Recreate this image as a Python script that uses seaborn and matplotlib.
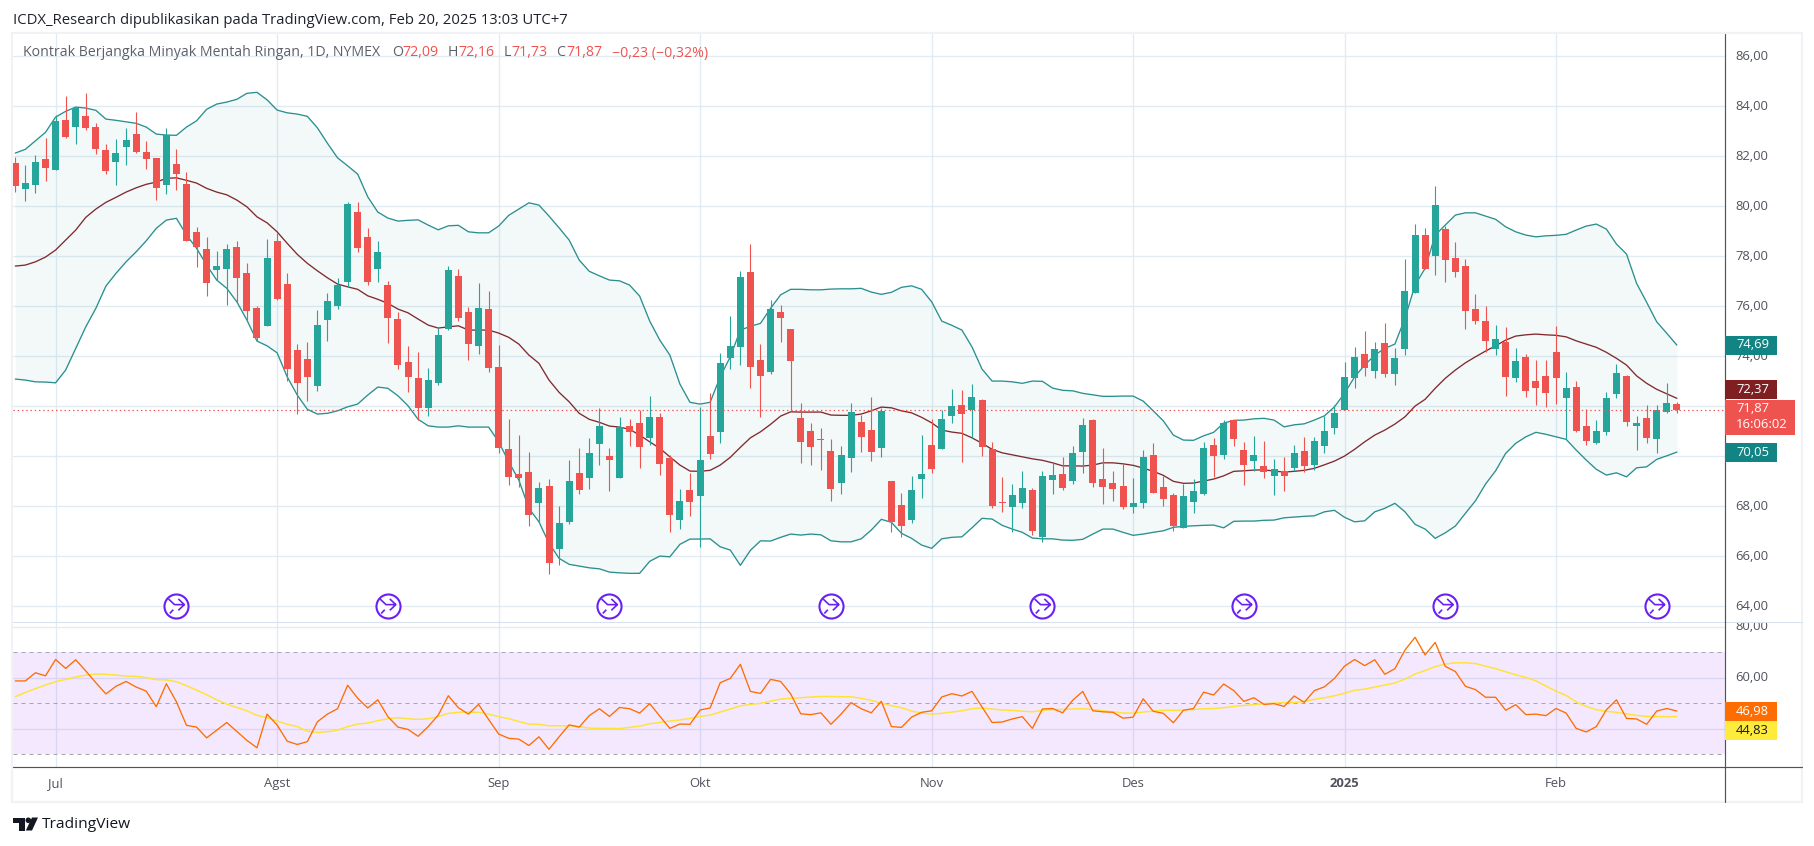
import matplotlib
matplotlib.use("Agg")
import matplotlib.pyplot as plt
from matplotlib.lines import Line2D
from matplotlib.patches import Rectangle, Polygon, Circle
from matplotlib.path import Path
from matplotlib.transforms import ScaledTranslation
import numpy as np
import seaborn as sns

open_px = [
    81.73, 80.70, 80.86, 81.89, 81.45, 83.45, 83.18, 83.61, 83.17, 82.25,
    81.77, 82.37, 82.89, 82.17, 81.93, 80.86, 81.69, 80.89, 78.97, 78.29,
    77.45, 77.49, 78.37, 77.33, 75.93, 75.22, 78.61, 76.89, 74.25, 73.89,
    72.81, 75.45, 76.01, 76.97, 79.77, 78.77, 77.49, 76.85, 75.49, 73.77,
    73.13, 71.93, 72.93, 75.08, 77.21, 75.77, 74.41, 75.89, 73.57, 70.29,
    69.29, 69.37, 68.13, 68.81, 66.29, 67.37, 69.33, 69.13, 70.49, 70.01,
    69.13, 71.21, 71.33, 70.73, 71.57, 69.93, 67.45, 68.65, 68.41, 70.81,
    70.97, 73.93, 74.37, 77.37, 73.85, 73.37, 75.77, 75.09, 71.53, 71.01,
    70.69, 70.21, 68.93, 69.93, 71.37, 71.05, 70.33, 69.01, 68.05, 67.45,
    69.09, 70.45, 70.29, 71.61, 72.05, 71.85, 72.25, 70.29, 68.17, 67.97,
    68.13, 68.65, 66.77, 69.05, 69.29, 69.01, 70.17, 71.45, 69.09, 68.93,
    68.81, 67.97, 68.13, 70.05, 68.77, 68.45, 67.13, 68.17, 68.49, 70.45,
    70.05, 71.45, 70.25, 69.81, 69.61, 69.21, 69.41, 69.53, 70.21, 69.65,
    70.41, 71.13, 71.85, 73.13, 74.09, 73.41, 74.53, 73.29, 74.29, 76.53,
    78.85, 78.01, 79.09, 77.93, 77.61, 75.89, 75.41, 74.29, 74.57, 73.13,
    73.97, 73.01, 73.21, 74.17, 72.33, 72.77, 71.21, 70.53, 70.97, 72.49,
    73.21, 71.21, 71.53, 70.69, 71.77, 72.09,
]
high_px = [
    81.98, 81.65, 82.05, 82.73, 83.65, 84.41, 83.97, 84.53, 83.33, 82.49,
    82.69, 83.13, 83.77, 82.61, 81.93, 83.13, 82.29, 81.37, 79.17, 78.77,
    78.21, 78.49, 78.61, 77.73, 76.01, 78.69, 78.92, 77.33, 74.49, 74.57,
    75.85, 76.53, 77.13, 80.17, 80.17, 79.13, 78.61, 77.01, 75.77, 74.41,
    74.17, 73.53, 75.13, 77.61, 77.49, 75.97, 76.93, 76.61, 74.45, 71.49,
    70.85, 70.17, 68.97, 69.09, 68.01, 69.85, 70.33, 70.73, 71.93, 70.33,
    71.57, 71.49, 71.85, 72.41, 71.73, 70.05, 68.69, 69.33, 71.97, 72.53,
    74.13, 75.61, 77.41, 78.49, 74.49, 76.25, 76.05, 75.09, 72.13, 71.33,
    71.13, 70.69, 70.41, 72.13, 71.65, 72.37, 71.93, 69.01, 68.53, 69.21,
    70.85, 71.49, 71.85, 72.69, 72.65, 72.89, 72.29, 70.57, 69.17, 68.89,
    69.41, 68.73, 69.41, 69.77, 69.97, 70.41, 71.53, 71.49, 70.33, 69.41,
    69.69, 69.13, 70.25, 70.53, 69.21, 68.53, 68.89, 69.09, 70.57, 70.73,
    71.45, 71.45, 70.57, 70.81, 70.61, 69.89, 69.97, 70.45, 70.77, 70.77,
    71.61, 72.05, 73.77, 74.37, 75.01, 74.57, 75.33, 74.33, 77.89, 79.29,
    79.13, 80.81, 79.21, 78.57, 77.89, 76.49, 76.01, 75.25, 75.17, 74.33,
    74.09, 73.85, 73.85, 75.21, 73.37, 73.01, 71.89, 71.45, 72.57, 73.69,
    73.25, 71.61, 72.05, 72.05, 72.93, 72.16,
]
low_px = [
    80.58, 80.22, 80.54, 81.01, 81.45, 82.74, 82.50, 83.05, 82.10, 81.30,
    80.86, 81.66, 82.14, 81.50, 80.26, 80.50, 80.66, 78.62, 77.58, 76.42,
    77.05, 76.05, 76.18, 75.42, 74.60, 75.22, 76.25, 73.02, 71.70, 72.22,
    72.61, 74.61, 75.89, 76.77, 78.17, 76.85, 76.97, 74.54, 73.49, 72.57,
    71.45, 71.61, 72.85, 75.05, 75.41, 73.85, 74.09, 73.37, 70.13, 68.85,
    68.77, 67.21, 67.32, 65.29, 65.65, 67.29, 68.49, 68.69, 69.65, 68.61,
    69.13, 70.41, 69.53, 70.45, 69.25, 66.97, 67.09, 67.61, 66.37, 69.89,
    70.53, 73.49, 73.65, 72.73, 71.57, 73.29, 74.57, 71.85, 69.73, 69.65,
    69.45, 68.21, 68.49, 69.37, 70.17, 69.81, 69.97, 66.97, 66.77, 67.33,
    68.33, 69.33, 70.29, 71.33, 69.77, 70.73, 70.01, 67.93, 67.77, 66.97,
    67.93, 66.85, 66.57, 68.49, 68.65, 68.89, 69.33, 68.77, 68.09, 68.21,
    67.89, 67.73, 67.93, 68.53, 68.01, 67.01, 67.13, 67.73, 68.45, 69.17,
    69.89, 70.41, 68.85, 69.41, 69.13, 68.45, 68.61, 69.41, 69.37, 69.45,
    70.13, 70.89, 71.85, 72.73, 73.21, 73.13, 73.17, 72.85, 74.05, 76.53,
    77.49, 77.25, 76.97, 77.17, 75.09, 75.29, 74.17, 74.05, 72.41, 72.97,
    72.37, 72.05, 71.97, 72.09, 70.68, 70.97, 70.45, 70.49, 70.85, 72.33,
    71.21, 70.25, 70.53, 70.13, 71.73, 71.73,
]
close_px = [
    80.82, 80.93, 81.77, 81.54, 83.41, 82.77, 83.93, 83.13, 82.30, 81.41,
    82.13, 82.65, 82.17, 81.89, 80.74, 82.85, 81.30, 78.62, 78.37, 76.94,
    77.61, 78.29, 77.14, 75.81, 74.73, 77.93, 76.29, 73.50, 72.94, 73.17,
    75.25, 76.21, 76.85, 80.09, 78.33, 76.97, 78.17, 75.54, 73.65, 73.17,
    71.93, 73.05, 74.85, 77.45, 75.54, 74.49, 75.93, 73.53, 70.33, 69.18,
    69.13, 67.65, 68.73, 65.73, 67.33, 69.01, 68.65, 70.13, 71.21, 69.85,
    71.17, 70.97, 70.37, 71.57, 69.69, 67.65, 68.21, 68.17, 69.85, 70.09,
    73.73, 74.41, 77.17, 73.57, 73.21, 75.89, 75.53, 73.81, 70.57, 70.37,
    70.67, 68.69, 70.05, 71.77, 70.77, 70.17, 71.81, 67.37, 67.21, 68.65,
    69.29, 69.49, 71.49, 72.01, 71.69, 72.37, 70.37, 68.01, 68.15, 68.45,
    68.73, 67.01, 69.21, 69.25, 68.72, 70.13, 71.25, 68.93, 68.77, 68.69,
    67.97, 68.13, 69.97, 68.53, 68.29, 67.21, 68.41, 68.61, 70.33, 70.01,
    71.33, 70.69, 69.65, 70.05, 69.37, 69.49, 69.21, 70.13, 69.61, 70.61,
    71.01, 71.73, 73.17, 73.97, 73.53, 74.29, 73.29, 73.93, 76.61, 78.85,
    77.49, 80.05, 77.85, 77.37, 75.81, 75.41, 74.61, 74.69, 73.17, 73.81,
    72.61, 72.73, 72.53, 73.13, 72.73, 71.01, 70.61, 71.01, 72.33, 73.33,
    71.37, 71.33, 70.73, 71.85, 72.13, 71.87,
]

bb_upper = [
    82.13, 82.28, 82.62, 82.96, 83.57, 83.80, 83.97, 83.93, 83.84, 83.49,
    83.44, 83.38, 83.32, 83.17, 82.89, 82.85, 82.84, 83.17, 83.42, 83.88,
    84.09, 84.17, 84.28, 84.52, 84.56, 84.26, 83.85, 83.74, 83.69, 83.60,
    83.14, 82.52, 81.94, 81.62, 81.29, 80.38, 79.77, 79.53, 79.41, 79.44,
    79.46, 79.25, 79.06, 79.22, 79.24, 78.98, 78.94, 78.94, 79.21, 79.64,
    79.89, 80.14, 80.05, 79.61, 79.14, 78.65, 77.85, 77.40, 77.22, 77.05,
    77.02, 76.85, 76.41, 75.41, 74.65, 74.05, 72.89, 72.16, 72.09, 72.16,
    73.18, 73.98, 75.05, 75.20, 75.32, 75.92, 76.46, 76.68, 76.68, 76.66,
    76.66, 76.69, 76.70, 76.70, 76.72, 76.57, 76.48, 76.56, 76.76, 76.82,
    76.68, 76.18, 75.41, 75.24, 75.05, 74.38, 73.49, 73.01, 73.01, 72.98,
    72.92, 73.01, 73.00, 72.73, 72.64, 72.62, 72.52, 72.46, 72.40, 72.40,
    72.41, 72.41, 72.21, 71.82, 71.42, 70.85, 70.65, 70.64, 70.82, 70.96,
    71.33, 71.44, 71.45, 71.50, 71.52, 71.45, 71.18, 71.26, 71.30, 71.45,
    71.62, 71.98, 72.52, 73.18, 73.65, 74.05, 74.32, 74.49, 75.52, 76.85,
    77.52, 78.85, 79.25, 79.65, 79.74, 79.74, 79.61, 79.48, 79.18, 78.98,
    78.85, 78.78, 78.82, 78.84, 78.88, 79.05, 79.21, 79.29, 79.09, 78.49,
    78.09, 76.92, 76.16, 75.38, 74.92, 74.45,
]
bb_basis = [
    77.61, 77.65, 77.78, 77.97, 78.25, 78.65, 79.05, 79.56, 79.89, 80.16,
    80.36, 80.57, 80.74, 80.88, 80.97, 81.12, 81.14, 81.04, 80.93, 80.72,
    80.57, 80.46, 80.25, 79.98, 79.58, 79.34, 78.98, 78.52, 78.08, 77.72,
    77.42, 77.14, 76.89, 76.78, 76.68, 76.42, 76.28, 76.12, 75.89, 75.74,
    75.49, 75.25, 75.13, 75.18, 75.22, 75.05, 75.05, 75.05, 74.93, 74.76,
    74.49, 74.05, 73.72, 73.05, 72.56, 72.18, 71.72, 71.48, 71.36, 71.21,
    71.17, 71.08, 70.85, 70.58, 70.32, 69.98, 69.65, 69.41, 69.40, 69.44,
    69.65, 69.96, 70.36, 70.74, 70.98, 71.28, 71.61, 71.78, 71.77, 71.77,
    71.77, 71.65, 71.64, 71.64, 71.69, 71.82, 71.97, 71.94, 71.82, 71.74,
    71.56, 71.34, 71.05, 70.97, 70.92, 70.74, 70.52, 70.28, 70.14, 70.06,
    69.98, 69.90, 69.84, 69.74, 69.62, 69.62, 69.61, 69.65, 69.74, 69.74,
    69.70, 69.64, 69.53, 69.40, 69.24, 69.00, 68.92, 68.93, 69.01, 69.09,
    69.22, 69.40, 69.42, 69.45, 69.46, 69.41, 69.37, 69.40, 69.44, 69.52,
    69.66, 69.81, 70.01, 70.28, 70.58, 70.85, 71.05, 71.29, 71.58, 72.01,
    72.28, 72.72, 73.12, 73.45, 73.74, 73.98, 74.21, 74.42, 74.65, 74.81,
    74.86, 74.89, 74.86, 74.84, 74.78, 74.62, 74.49, 74.36, 74.16, 73.92,
    73.65, 73.22, 72.92, 72.68, 72.50, 72.32,
]
bb_lower = [
    73.09, 73.05, 72.98, 72.97, 72.94, 73.45, 74.32, 75.18, 75.92, 76.81,
    77.32, 77.78, 78.18, 78.62, 79.12, 79.45, 79.52, 78.85, 78.32, 77.65,
    77.05, 76.72, 76.18, 75.45, 74.61, 74.42, 74.14, 73.18, 72.45, 71.88,
    71.69, 71.72, 71.82, 71.98, 72.09, 72.45, 72.77, 72.72, 72.42, 72.02,
    71.48, 71.22, 71.17, 71.17, 71.22, 71.17, 71.17, 71.17, 70.58, 69.78,
    69.05, 67.92, 67.38, 66.52, 65.92, 65.68, 65.61, 65.54, 65.50, 65.37,
    65.34, 65.32, 65.32, 65.80, 66.01, 65.98, 66.48, 66.69, 66.69, 66.70,
    66.38, 66.25, 65.64, 66.24, 66.62, 66.61, 66.76, 66.89, 66.85, 66.89,
    66.86, 66.62, 66.58, 66.58, 66.70, 67.05, 67.48, 67.36, 66.92, 66.72,
    66.45, 66.32, 66.70, 66.76, 66.78, 67.14, 67.52, 67.49, 67.24, 67.09,
    66.96, 66.73, 66.70, 66.70, 66.65, 66.64, 66.68, 66.89, 67.09, 67.09,
    66.96, 66.84, 66.89, 66.96, 67.02, 67.16, 67.20, 67.22, 67.24, 67.25,
    67.14, 67.40, 67.41, 67.41, 67.44, 67.45, 67.54, 67.57, 67.60, 67.62,
    67.78, 67.84, 67.56, 67.38, 67.42, 67.78, 67.92, 68.12, 67.78, 67.28,
    67.09, 66.72, 66.94, 67.21, 67.72, 68.22, 68.89, 69.42, 70.12, 70.52,
    70.78, 70.96, 70.88, 70.78, 70.68, 70.25, 69.85, 69.48, 69.25, 69.34,
    69.18, 69.54, 69.58, 69.88, 70.02, 70.17,
]

rsi_values = [
    58.8, 58.8, 62.0, 60.8, 67.2, 63.7, 67.1, 62.7, 58.1, 53.7,
    56.7, 58.6, 56.4, 54.8, 48.7, 57.7, 50.6, 41.4, 40.7, 36.5,
    39.5, 42.5, 39.0, 35.5, 32.6, 45.8, 41.5, 35.2, 33.9, 35.0,
    42.8, 45.8, 47.9, 57.1, 52.0, 48.2, 51.4, 44.8, 40.7, 39.8,
    37.1, 40.9, 45.4, 53.0, 48.3, 45.8, 49.6, 43.7, 38.0, 36.3,
    36.0, 33.5, 36.9, 32.0, 36.9, 41.6, 40.7, 45.2, 47.9, 44.9,
    48.4, 47.9, 46.2, 49.9, 45.0, 40.2, 41.9, 41.8, 47.4, 48.2,
    58.1, 59.8, 65.3, 54.7, 53.9, 59.4, 58.6, 53.7, 45.9, 45.6,
    46.3, 41.8, 45.8, 50.3, 47.9, 46.3, 50.8, 40.9, 40.6, 44.6,
    46.5, 47.1, 52.5, 53.8, 52.9, 54.7, 48.6, 42.5, 42.7, 43.9,
    44.8, 40.2, 47.8, 48.0, 46.3, 51.2, 54.7, 47.1, 46.7, 46.5,
    44.2, 44.6, 51.8, 46.9, 46.1, 42.4, 47.3, 48.0, 54.4, 53.3,
    57.6, 55.0, 50.8, 52.2, 49.6, 49.9, 48.8, 52.9, 50.4, 55.0,
    56.5, 59.8, 64.6, 67.2, 64.8, 67.1, 61.4, 63.6, 70.9, 75.9,
    69.0, 73.9, 64.5, 62.5, 56.7, 55.4, 52.4, 52.4, 47.3, 49.5,
    45.6, 45.8, 45.2, 48.0, 46.2, 40.2, 38.8, 40.9, 47.5, 51.4,
    44.1, 43.9, 41.8, 47.0, 48.0, 46.98,
]
rsi_ma = [
    52.6, 54.3, 55.8, 57.2, 58.5, 59.4, 60.3, 61.1, 61.5, 61.4,
    61.1, 60.7, 60.6, 60.1, 59.3, 59.2, 58.5, 56.9, 55.2, 53.4,
    51.4, 49.7, 48.4, 47.1, 45.3, 44.4, 43.1, 41.8, 40.9, 39.1,
    38.6, 38.9, 39.5, 40.9, 41.9, 42.3, 43.2, 44.0, 44.4, 44.0,
    43.7, 44.0, 44.8, 46.1, 46.5, 46.6, 46.5, 45.8, 44.8, 44.0,
    42.9, 41.9, 41.8, 41.2, 41.2, 41.2, 40.9, 40.3, 40.2, 40.2,
    40.1, 40.6, 41.1, 42.0, 42.5, 43.1, 43.5, 44.1, 44.9, 45.4,
    46.6, 47.8, 49.0, 49.6, 50.0, 50.9, 51.7, 52.0, 52.2, 52.5,
    52.7, 52.7, 52.6, 52.6, 52.0, 51.2, 50.1, 49.1, 48.3, 47.0,
    46.2, 45.8, 46.1, 46.6, 47.1, 47.9, 48.2, 47.8, 47.4, 47.3,
    46.9, 46.7, 47.3, 47.6, 47.6, 47.8, 47.9, 47.6, 47.1, 46.7,
    46.2, 46.2, 46.6, 47.0, 47.3, 47.3, 47.4, 47.6, 47.9, 48.0,
    48.3, 48.8, 49.2, 49.5, 49.9, 50.1, 50.3, 50.3, 50.8, 51.6,
    52.2, 53.0, 54.0, 55.1, 55.6, 56.4, 57.2, 58.0, 59.5, 61.5,
    62.9, 64.4, 65.4, 65.9, 65.9, 65.6, 64.6, 63.6, 62.4, 61.2,
    60.2, 58.8, 56.8, 54.8, 53.1, 50.6, 48.8, 47.5, 46.9, 46.5,
    45.9, 45.3, 44.9, 44.8, 44.8, 44.83,
]

month_bars = [4, 26, 48, 68, 91, 111, 132, 153]
month_labels = ["Jul", "Agst", "Sep", "Okt", "Nov", "Des", "2025", "Feb"]
event_bars = [16, 37, 59, 81, 102, 122, 142, 163]
price_ticks = [64, 66, 68, 70, 72, 74, 76, 78, 80, 82, 84, 86]
rsi_ticks = [40, 60, 80]
hidden_tick_labels = [70, 72, 40]  # sit behind the coloured value boxes

W, H = 1814, 846
GREEN, RED = "#26a69a", "#ef5350"
TEAL = "#2a8f8f"
GRID = "#e1ebf2"
TEXT = "#50535e"

sns.set_theme(style="white")
plt.rcParams["font.family"] = ["Open Sans", "DejaVu Sans"]

fig = plt.figure(figsize=(W / 100, H / 100), dpi=100, facecolor="white")


def px_axes(left, top, right, bottom):
    return fig.add_axes([left / W, 1 - bottom / H, (right - left) / W, (bottom - top) / H])


def px_text(x, y, s, **kw):
    kw.setdefault("va", "center")
    kw.setdefault("fontsize", 9.4)
    kw.setdefault("color", TEXT)
    return fig.text(x / W, 1 - y / H, s, **kw)


def px_box(left, top, right, bottom, color, zorder=6):
    fig.add_artist(Rectangle((left / W, 1 - bottom / H), (right - left) / W, (bottom - top) / H,
                             transform=fig.transFigure, facecolor=color, edgecolor="none",
                             zorder=zorder))


def px_line(x0, y0, x1, y1, color, lw=0.8):
    fig.add_artist(Line2D([x0 / W, x1 / W], [1 - y0 / H, 1 - y1 / H], transform=fig.transFigure,
                          color=color, lw=lw, zorder=4))


def tick_text(ticks):
    return ["" if t in hidden_tick_labels else f"{t:.2f}".replace(".", ",") for t in ticks]


# frame around the chart
fig.add_artist(Rectangle((12 / W, 1 - 802 / H), 1790 / W, 769 / H, transform=fig.transFigure,
                         facecolor="white", edgecolor="#f0f2f6", lw=1.6, zorder=-1))

ax = px_axes(13, 34, 1724.5, 622)
ax_rsi = px_axes(13, 623, 1724.5, 767.3)

bars = np.arange(len(close_px))
opens, closes = np.array(open_px), np.array(close_px)
colors = np.where(closes >= opens, GREEN, RED)

# bollinger bands
ax.fill_between(bars, bb_lower, bb_upper, color="#26908f", alpha=0.055, lw=0, zorder=1)
for band, color in [(bb_upper, TEAL), (bb_lower, TEAL), (bb_basis, "#802a2e")]:
    sns.lineplot(x=bars, y=band, ax=ax, color=color, linewidth=0.95, errorbar=None, zorder=2)

# candles
ax.vlines(bars, low_px, high_px, colors=colors, lw=0.8, zorder=3)
ax.bar(bars, np.abs(closes - opens), bottom=np.minimum(opens, closes), width=0.695,
       color=colors, linewidth=0, zorder=4)
ax.axhline(close_px[-1], color=RED, lw=0.85, linestyle=(0, (1.2, 2.4)), zorder=5)

# event markers along the bottom of the price pane
glyph = Path([(-0.5, 0.42), (-0.12, 0.06), (0.5, 0.06), (0.12, 0.42), (0.5, 0.06), (0.12, -0.3),
              (-0.42, -0.5), (-0.2, -0.26)],
             [Path.MOVETO, Path.LINETO, Path.LINETO, Path.MOVETO, Path.LINETO, Path.LINETO,
              Path.MOVETO, Path.LINETO])
event_y = np.full(len(event_bars), 64.03)
ax.scatter(event_bars, event_y, s=300, facecolor="white", edgecolor="#6a1ff5", lw=1.5, zorder=6)
ax.scatter(event_bars, event_y, s=130, marker=glyph, facecolor="none", edgecolor="#6a1ff5",
           lw=1.2, zorder=7)

ax.set_xlim(-0.228, 169.73)
ax.set_ylim(63.373, 86.893)
ax.set_xticks(month_bars)
ax.set_yticks(price_ticks)
ax.set_yticklabels(tick_text(price_ticks), fontsize=9.4, color=TEXT)
ax.yaxis.tick_right()
ax.tick_params(axis="both", length=0, labelbottom=False, pad=8)
ax.grid(True, color=GRID, lw=1.0)
ax.set_axisbelow(True)
ax.set_xlabel("")
ax.set_ylabel("")
for spine in ax.spines.values():
    spine.set_visible(False)

# rsi pane
ax_rsi.axhspan(30, 70, color="#8c00ff", alpha=0.09, lw=0, zorder=1)
for level in [70, 50, 30]:
    ax_rsi.axhline(level, color="#a6a4ad", lw=0.72, linestyle=(0, (4, 4)), zorder=2)
sns.lineplot(x=bars, y=rsi_ma, ax=ax_rsi, color="#ffe335", linewidth=1.05, errorbar=None, zorder=3)
sns.lineplot(x=bars, y=rsi_values, ax=ax_rsi, color="#ff6d00", linewidth=0.95, errorbar=None, zorder=4)
ax_rsi.set_xlim(-0.228, 169.73)
ax_rsi.set_ylim(24.95, 81.5)
ax_rsi.set_xticks(month_bars)
ax_rsi.set_xticklabels(month_labels, fontsize=9.4, color=TEXT)
ax_rsi.get_xticklabels()[month_labels.index("2025")].set_fontweight("bold")
ax_rsi.set_yticks(rsi_ticks)
ax_rsi.set_yticklabels(tick_text(rsi_ticks), fontsize=9.4, color=TEXT)
ax_rsi.yaxis.tick_right()
ax_rsi.tick_params(axis="y", length=0, pad=8)
ax_rsi.tick_params(axis="x", length=0, pad=7)
ax_rsi.grid(True, color=GRID, lw=1.0)
ax_rsi.set_axisbelow(True)
ax_rsi.set_xlabel("")
ax_rsi.set_ylabel("")
for spine in ax_rsi.spines.values():
    spine.set_visible(False)

# tick labels sit a little above their grid lines
lift = ScaledTranslation(0, 1.3 / 72, fig.dpi_scale_trans)
for a in (ax, ax_rsi):
    for lbl in a.get_yticklabels():
        lbl.set_transform(lbl.get_transform() + lift)

# pane separator and axis lines
px_box(1726, 614, 1801, 622, "white", zorder=3)
px_line(13, 622.3, 1802, 622.3, "#d8e2ee")
px_line(13, 767.3, 1802, 767.3, TEXT, lw=0.85)
px_line(1724.5, 34, 1724.5, 802, TEXT, lw=0.85)

# value labels on the right axis
for top, bottom, color, label, tcolor in [
    (336, 355, "#138484", "74,69", "white"),
    (380, 399, "#801f22", "72,37", "white"),
    (443, 462, "#138484", "70,05", "white"),
    (702, 721, "#ff6d00", "46,98", "white"),
    (721, 740, "#ffeb3b", "44,83", "#131722"),
]:
    px_box(1725, top, 1776.5, bottom, color)
    px_text(1736, (top + bottom) / 2 - 0.5, label, color=tcolor, zorder=7)
px_box(1725, 400, 1795, 435, RED)
px_text(1736, 408.5, "71,87", color="white", zorder=7)
px_text(1736, 424.5, "16:06:02", color="white", zorder=7)

# header and legend line
px_text(13, 20, "ICDX_Research dipublikasikan pada TradingView.com, Feb 20, 2025 13:03 UTC+7",
        fontsize=10.7, color="#1e222d")
px_text(23, 53, "Kontrak Berjangka Minyak Mentah Ringan, 1D, NYMEX", fontsize=10.2, color="#5d606b", zorder=8)
for x, s, c in [(392, "O", "#5d606b"), (402.7, "72,09", RED), (447.5, "H", "#5d606b"), (458, "72,16", RED),
                (504, "L", "#5d606b"), (511.5, "71,73", RED), (556.5, "C", "#5d606b"), (566.7, "71,87", RED),
                (612.3, "\u22120,23 (\u22120,32%)", RED)]:
    px_text(x, 53, s, fontsize=10.2, color=c, zorder=8)

# TradingView logo
logo = "#131722"
for pts in [[(13, 817.5), (24.5, 817.5), (24.5, 830.5), (18.5, 830.5), (18.5, 823), (13, 823)],
            [(32, 817.5), (38, 817.5), (32, 830.5), (25.8, 830.5)]]:
    fig.add_artist(Polygon([(x / W, 1 - y / H) for x, y in pts], closed=True,
                           transform=fig.transFigure, facecolor=logo, edgecolor="none"))
dot = Circle((28.3, H - 820.3), 2.8, transform=None, facecolor=logo, edgecolor="none")
fig.add_artist(dot)
px_text(41.5, 824.5, "TradingView", fontsize=11.15, color=logo)

fig.savefig("out.png", dpi=100, facecolor="white")
